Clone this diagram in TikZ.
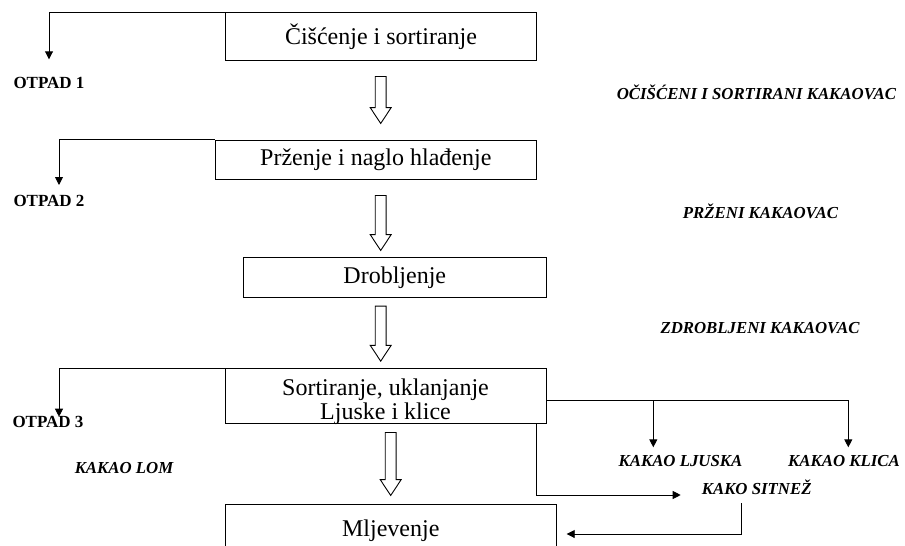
\documentclass[tikz,border=0pt]{standalone}
\usepackage{fontspec}
\setmainfont{Liberation Serif}
\usetikzlibrary{arrows.meta,shapes.arrows}

\begin{document}
\begin{tikzpicture}[x=1pt, y=-1pt,
    box/.style={draw=black, line width=0.9pt, inner sep=0pt, align=center, font=\fontsize{24}{24}\selectfont},
    hollow/.style={draw=black, line width=0.9pt, single arrow, rotate=-90, anchor=tail, inner sep=0pt, text height=10pt, text depth=0pt, text width=0pt, minimum width=20pt, single arrow head extend=5pt, single arrow tip angle=67},
    waste/.style={inner sep=0pt, font=\fontsize{17}{18}\selectfont\bfseries},
    product/.style={inner sep=0pt, font=\fontsize{16.8}{18}\selectfont\bfseries\itshape},
    flow/.style={line width=0.9pt, -{Triangle[length=8pt,width=8pt]}}]
    \useasboundingbox (0,0) rectangle (905,546);

    \node[box, minimum width=311.7pt, minimum height=47.3pt] (b1) at (381,36.3) {Čišćenje i sortiranje};
    \node[box, minimum width=321.7pt, minimum height=39pt] (b2) at (375.8,159.5) {Prženje i naglo hlađenje};
    \node[box, minimum width=303.7pt, minimum height=40pt] (b3) at (394.8,277.7) {Drobljenje};
    \node[box, minimum width=321pt, minimum height=54.5pt] (b4) at (385.5,395.8) {};
    \node[box, draw=none] (b4t) at (385.5,401.5) {Sortiranje, uklanjanje\\Ljuske i klice};
    \node[box, minimum width=331.7pt, minimum height=53pt] (b5) at (390.8,531) {Mljevenje};

    \node[hollow, minimum height=47pt] (a1) at (380.7,76) {};
    \node[hollow, minimum height=55pt] (a2) at (380.7,195) {};
    \node[hollow, minimum height=55pt] (a3) at (380.7,305.7) {};
    \node[hollow, minimum height=63pt] (a4) at (390.7,432) {};

    \node[waste] (o1) at (49,82.5) {OTPAD 1};
    \node[waste] (o2) at (49,201) {OTPAD 2};
    \node[waste] (o3) at (48,422) {OTPAD 3};

    \node[product] (p1) at (756.5,92) {OČIŠĆENI I SORTIRANI KAKAOVAC};
    \node[product] (p2) at (760.5,211) {PRŽENI KAKAOVAC};
    \node[product] (p3) at (760,328) {ZDROBLJENI KAKAOVAC};
    \node[product] (p4) at (124,468) {KAKAO LOM};
    \node[product] (p5) at (680.5,460.7) {KAKAO LJUSKA};
    \node[product] (p6) at (844,460.7) {KAKAO KLICA};
    \node[product] (p7) at (756.7,487.3) {KAKO SITNEŽ};

    \coordinate (w1) at (49,59.3);
    \coordinate (w2) at (59,185);
    \coordinate (w3) at (59,416.7);
    \coordinate (r) at (653.3,400.7);
    \coordinate (t1) at (653.3,447.3);
    \coordinate (t2) at (848.3,447.3);
    \coordinate (d) at (536.7,495);
    \coordinate (t3) at (680.7,495);
    \coordinate (s) at (741.7,503);
    \coordinate (t4) at (566.7,534);

    \draw[flow] (b1.north west) -| (w1);
    \draw[flow] (b2.north west) -| (w2);
    \draw[flow] (b4.north west) -| (w3);
    \draw[flow] (b4.east |- r) -| (t2);
    \draw[flow] (r) -- (t1);
    \draw[flow] (b4.south -| d) |- (t3);
    \draw[flow] (s) |- (t4);

\end{tikzpicture}
\end{document}
